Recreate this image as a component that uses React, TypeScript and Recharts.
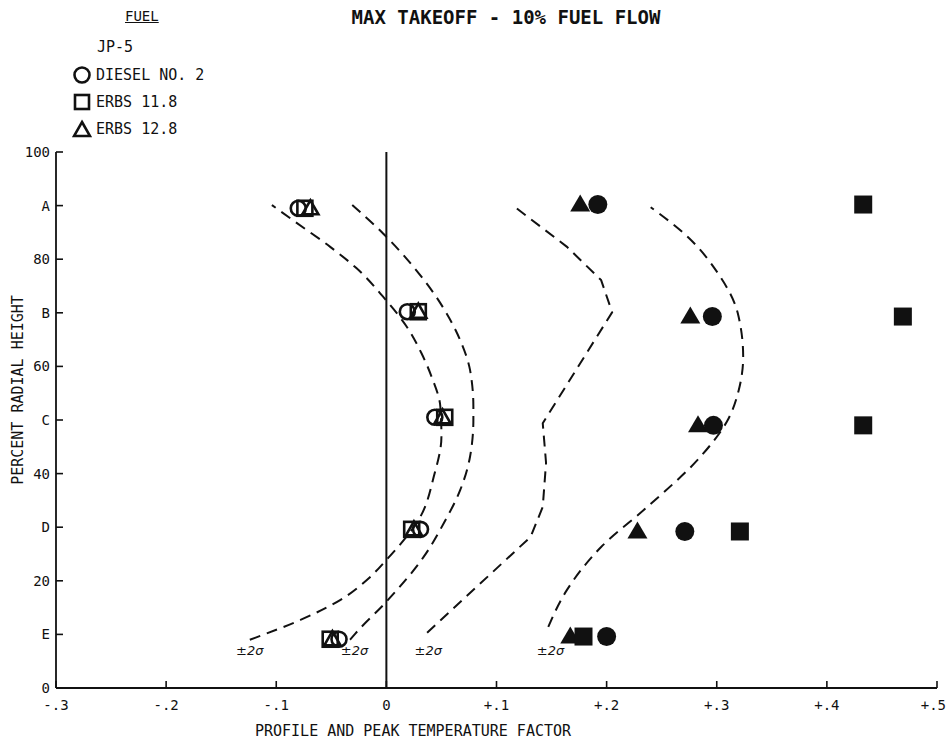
import React from 'react';
import {
  ScatterChart,
  Scatter,
  XAxis,
  YAxis,
  ReferenceLine,
  ReferenceDot,
} from 'recharts';

// axis ticks
const xTicks = [-0.3, -0.2, -0.1, 0, 0.1, 0.2, 0.3, 0.4, 0.5];
const xTickLabels = ['-.3', '-.2', '-.1', '0', '+.1', '+.2', '+.3', '+.4', '+.5'];
const yTicks = [0, 10, 20, 30, 40, 50, 60, 70, 80, 90, 100];
const yTickLabels = ['0', 'E', '20', 'D', '40', 'C', '60', 'B', '80', 'A', '100'];

// stations A..E, open symbols (profile factor)
const openHeights = [89.5, 70.2, 50.5, 29.6, 9.1];
const openDiesel = [-0.08, 0.019, 0.044, 0.031, -0.043];
const openErbs118 = [-0.074, 0.029, 0.053, 0.023, -0.051];
const openErbs128 = [-0.069, 0.029, 0.051, 0.025, -0.049];

// filled symbols (peak factor)
const filledHeights = [90.2, 69.3, 49.0, 29.2, 9.6];
const filledDiesel = [0.192, 0.296, 0.297, 0.271, 0.2];
const filledErbs118 = [0.433, 0.469, 0.433, 0.321, 0.179];
const filledErbs128 = [0.176, 0.276, 0.283, 0.228, 0.167];

// JP-5 +-2 sigma bands
const band1Low = [
  [-0.124, 9.0], [-0.078, 12.7], [-0.042, 16.4], [-0.018, 20.1], [0.0, 23.9], [0.031, 32.0],
  [0.043, 39.4], [0.05, 46.9], [0.049, 52.5], [0.041, 58.1], [0.032, 62.4], [0.0185, 67.4],
  [-0.003, 73.0], [-0.027, 78.3], [-0.051, 82.3], [-0.083, 87.0], [-0.104, 90.1],
];
const band1High = [
  [-0.033, 9.0], [-0.028, 10.2], [0.0, 16.1], [0.034, 24.5], [0.052, 30.7], [0.067, 36.9],
  [0.076, 43.2], [0.079, 50.0], [0.079, 52.5], [0.076, 59.3], [0.067, 64.9], [0.049, 71.8],
  [0.0245, 78.6], [-0.003, 84.8], [-0.031, 90.1],
];
const band2Low = [
  [0.037, 10.3], [0.131, 28.2], [0.142, 33.8], [0.145, 42.0], [0.142, 49.4], [0.205, 70.1],
  [0.195, 76.1], [0.164, 82.3], [0.117, 89.7],
];
const band2High = [
  [0.147, 11.4], [0.164, 18.3], [0.195, 26.3], [0.237, 33.8], [0.285, 43.1], [0.31, 50.0],
  [0.32, 55.6], [0.324, 61.8], [0.319, 70.0], [0.301, 77.4], [0.274, 84.1], [0.24, 89.7],
];

const sigmaLabels = [
  { x: -0.124, y: 7.1 },
  { x: -0.029, y: 7.1 },
  { x: 0.038, y: 7.1 },
  { x: 0.149, y: 7.1 },
];

const zip = (xs: number[], ys: number[]) => xs.map((x, i) => ({ x, y: ys[i] }));
const pts = (arr: number[][]) => arr.map(([x, y]) => ({ x, y }));

const FONT = '"DejaVu Sans Mono", monospace';
const INK = '#111';

const openCircle = (p: any) => (
  <circle cx={p.cx} cy={p.cy} r={7.5} fill="none" stroke={INK} strokeWidth={2.6} />
);
const openSquare = (p: any) => (
  <rect x={p.cx - 7.5} y={p.cy - 7.5} width={15} height={15} fill="none" stroke={INK} strokeWidth={2.6} />
);
const openTriangle = (p: any) => (
  <polygon
    points={`${p.cx},${p.cy - 8} ${p.cx + 8},${p.cy + 6} ${p.cx - 8},${p.cy + 6}`}
    fill="none"
    stroke={INK}
    strokeWidth={2.6}
  />
);
const filledCircle = (p: any) => <circle cx={p.cx} cy={p.cy} r={9.5} fill={INK} />;
const filledSquare = (p: any) => (
  <rect x={p.cx - 9} y={p.cy - 9} width={18} height={18} fill={INK} />
);
const filledTriangle = (p: any) => (
  <polygon
    points={`${p.cx},${p.cy - 10} ${p.cx + 10},${p.cy + 7} ${p.cx - 10},${p.cy + 7}`}
    fill={INK}
  />
);
const noShape = () => <g />;

const YTick = (props: any) => {
  const { x, y, payload } = props;
  const axisX = x + 6;
  const label = yTickLabels[yTicks.indexOf(payload.value)];
  return (
    <g>
      <line x1={axisX} x2={axisX + 7} y1={y} y2={y} stroke={INK} strokeWidth={1.6} />
      <text x={x} y={y + 5} textAnchor="end" fontFamily={FONT} fontSize={14} fill={INK}>
        {label}
      </text>
    </g>
  );
};

const XTick = (props: any) => {
  const { x, y, payload } = props;
  const axisY = y - 6;
  const idx = xTicks.findIndex((t) => Math.abs(t - payload.value) < 1e-6);
  const last = idx === xTicks.length - 1;
  return (
    <g>
      <line x1={x} x2={x} y1={axisY} y2={axisY - 7} stroke={INK} strokeWidth={1.6} />
      <text
        x={last ? 946 : x}
        y={axisY + 22}
        textAnchor={last ? 'end' : 'middle'}
        fontFamily={FONT}
        fontSize={14}
        fill={INK}
      >
        {xTickLabels[idx]}
      </text>
    </g>
  );
};

const dash = { stroke: INK, strokeWidth: 2, strokeDasharray: '11 7' };

export default function App() {
  return (
    <div
      style={{
        position: 'absolute',
        left: 0,
        top: 0,
        width: 947,
        height: 742,
        background: '#fff',
        color: INK,
        fontFamily: FONT,
      }}
    >
      <div style={{ position: 'absolute', left: 0, top: 6, width: 1012, textAlign: 'center', fontSize: 19, fontWeight: 'bold' }}>
        MAX TAKEOFF - 10% FUEL FLOW
      </div>
      <div style={{ position: 'absolute', left: 125, top: 8, fontSize: 14, textDecoration: 'underline' }}>FUEL</div>
      <div style={{ position: 'absolute', left: 97, top: 38, fontSize: 15 }}>JP-5</div>
      {[
        { label: 'DIESEL NO. 2', top: 65, icon: <circle cx={10} cy={10} r={7.5} fill="none" stroke={INK} strokeWidth={2.6} /> },
        { label: 'ERBS 11.8', top: 92, icon: <rect x={3} y={3} width={14} height={14} fill="none" stroke={INK} strokeWidth={2.6} /> },
        { label: 'ERBS 12.8', top: 119, icon: <polygon points="10,3 18,17 2,17" fill="none" stroke={INK} strokeWidth={2.6} /> },
      ].map((e) => (
        <div key={e.label} style={{ position: 'absolute', left: 72, top: e.top, display: 'flex', alignItems: 'center', fontSize: 15 }}>
          <svg width={20} height={20} style={{ marginRight: 4 }}>
            {e.icon}
          </svg>
          {e.label}
        </div>
      ))}
      <div
        style={{
          position: 'absolute',
          left: 18,
          top: 390,
          transform: 'translate(-50%, -50%) rotate(-90deg)',
          whiteSpace: 'nowrap',
          fontSize: 15,
        }}
      >
        PERCENT RADIAL HEIGHT
      </div>
      <div style={{ position: 'absolute', left: 0, top: 722, width: 826, textAlign: 'center', fontSize: 15 }}>
        PROFILE AND PEAK TEMPERATURE FACTOR
      </div>
      <ScatterChart
        width={947}
        height={742}
        margin={{ top: 152, right: 10, bottom: 0, left: 0 }}
        style={{ position: 'absolute', left: 0, top: 0 }}
      >
        <XAxis
          type="number"
          dataKey="x"
          domain={[-0.3, 0.5]}
          ticks={xTicks}
          tick={<XTick />}
          tickSize={0}
          tickMargin={6}
          height={54}
          axisLine={{ stroke: INK, strokeWidth: 1.8 }}
          tickLine={false}
          interval={0}
        />
        <YAxis
          type="number"
          dataKey="y"
          domain={[0, 100]}
          ticks={yTicks}
          tick={<YTick />}
          tickSize={0}
          tickMargin={6}
          width={56}
          axisLine={{ stroke: INK, strokeWidth: 1.8 }}
          tickLine={false}
          interval={0}
        />
        <ReferenceLine x={0} stroke={INK} strokeWidth={2} />

        <Scatter data={pts(band1Low)} line={dash} lineJointType="monotoneY" shape={noShape} isAnimationActive={false} />
        <Scatter data={pts(band1High)} line={dash} lineJointType="monotoneY" shape={noShape} isAnimationActive={false} />
        <Scatter data={pts(band2Low)} line={dash} lineJointType="linear" shape={noShape} isAnimationActive={false} />
        <Scatter data={pts(band2High)} line={dash} lineJointType="monotoneY" shape={noShape} isAnimationActive={false} />

        <Scatter data={zip(openErbs128, openHeights)} shape={openTriangle} isAnimationActive={false} />
        <Scatter data={zip(openErbs118, openHeights)} shape={openSquare} isAnimationActive={false} />
        <Scatter data={zip(openDiesel, openHeights)} shape={openCircle} isAnimationActive={false} />

        <Scatter data={zip(filledErbs128, filledHeights)} shape={filledTriangle} isAnimationActive={false} />
        <Scatter data={zip(filledErbs118, filledHeights)} shape={filledSquare} isAnimationActive={false} />
        <Scatter data={zip(filledDiesel, filledHeights)} shape={filledCircle} isAnimationActive={false} />

        {sigmaLabels.map((s, i) => (
          <ReferenceDot
            key={i}
            x={s.x}
            y={s.y}
            r={0}
            fill="none"
            stroke="none"
            label={{ value: '±2σ', position: 'center', fontSize: 13, fontStyle: 'italic', fill: INK, fontFamily: 'DejaVu Sans' }}
          />
        ))}
      </ScatterChart>
    </div>
  );
}
